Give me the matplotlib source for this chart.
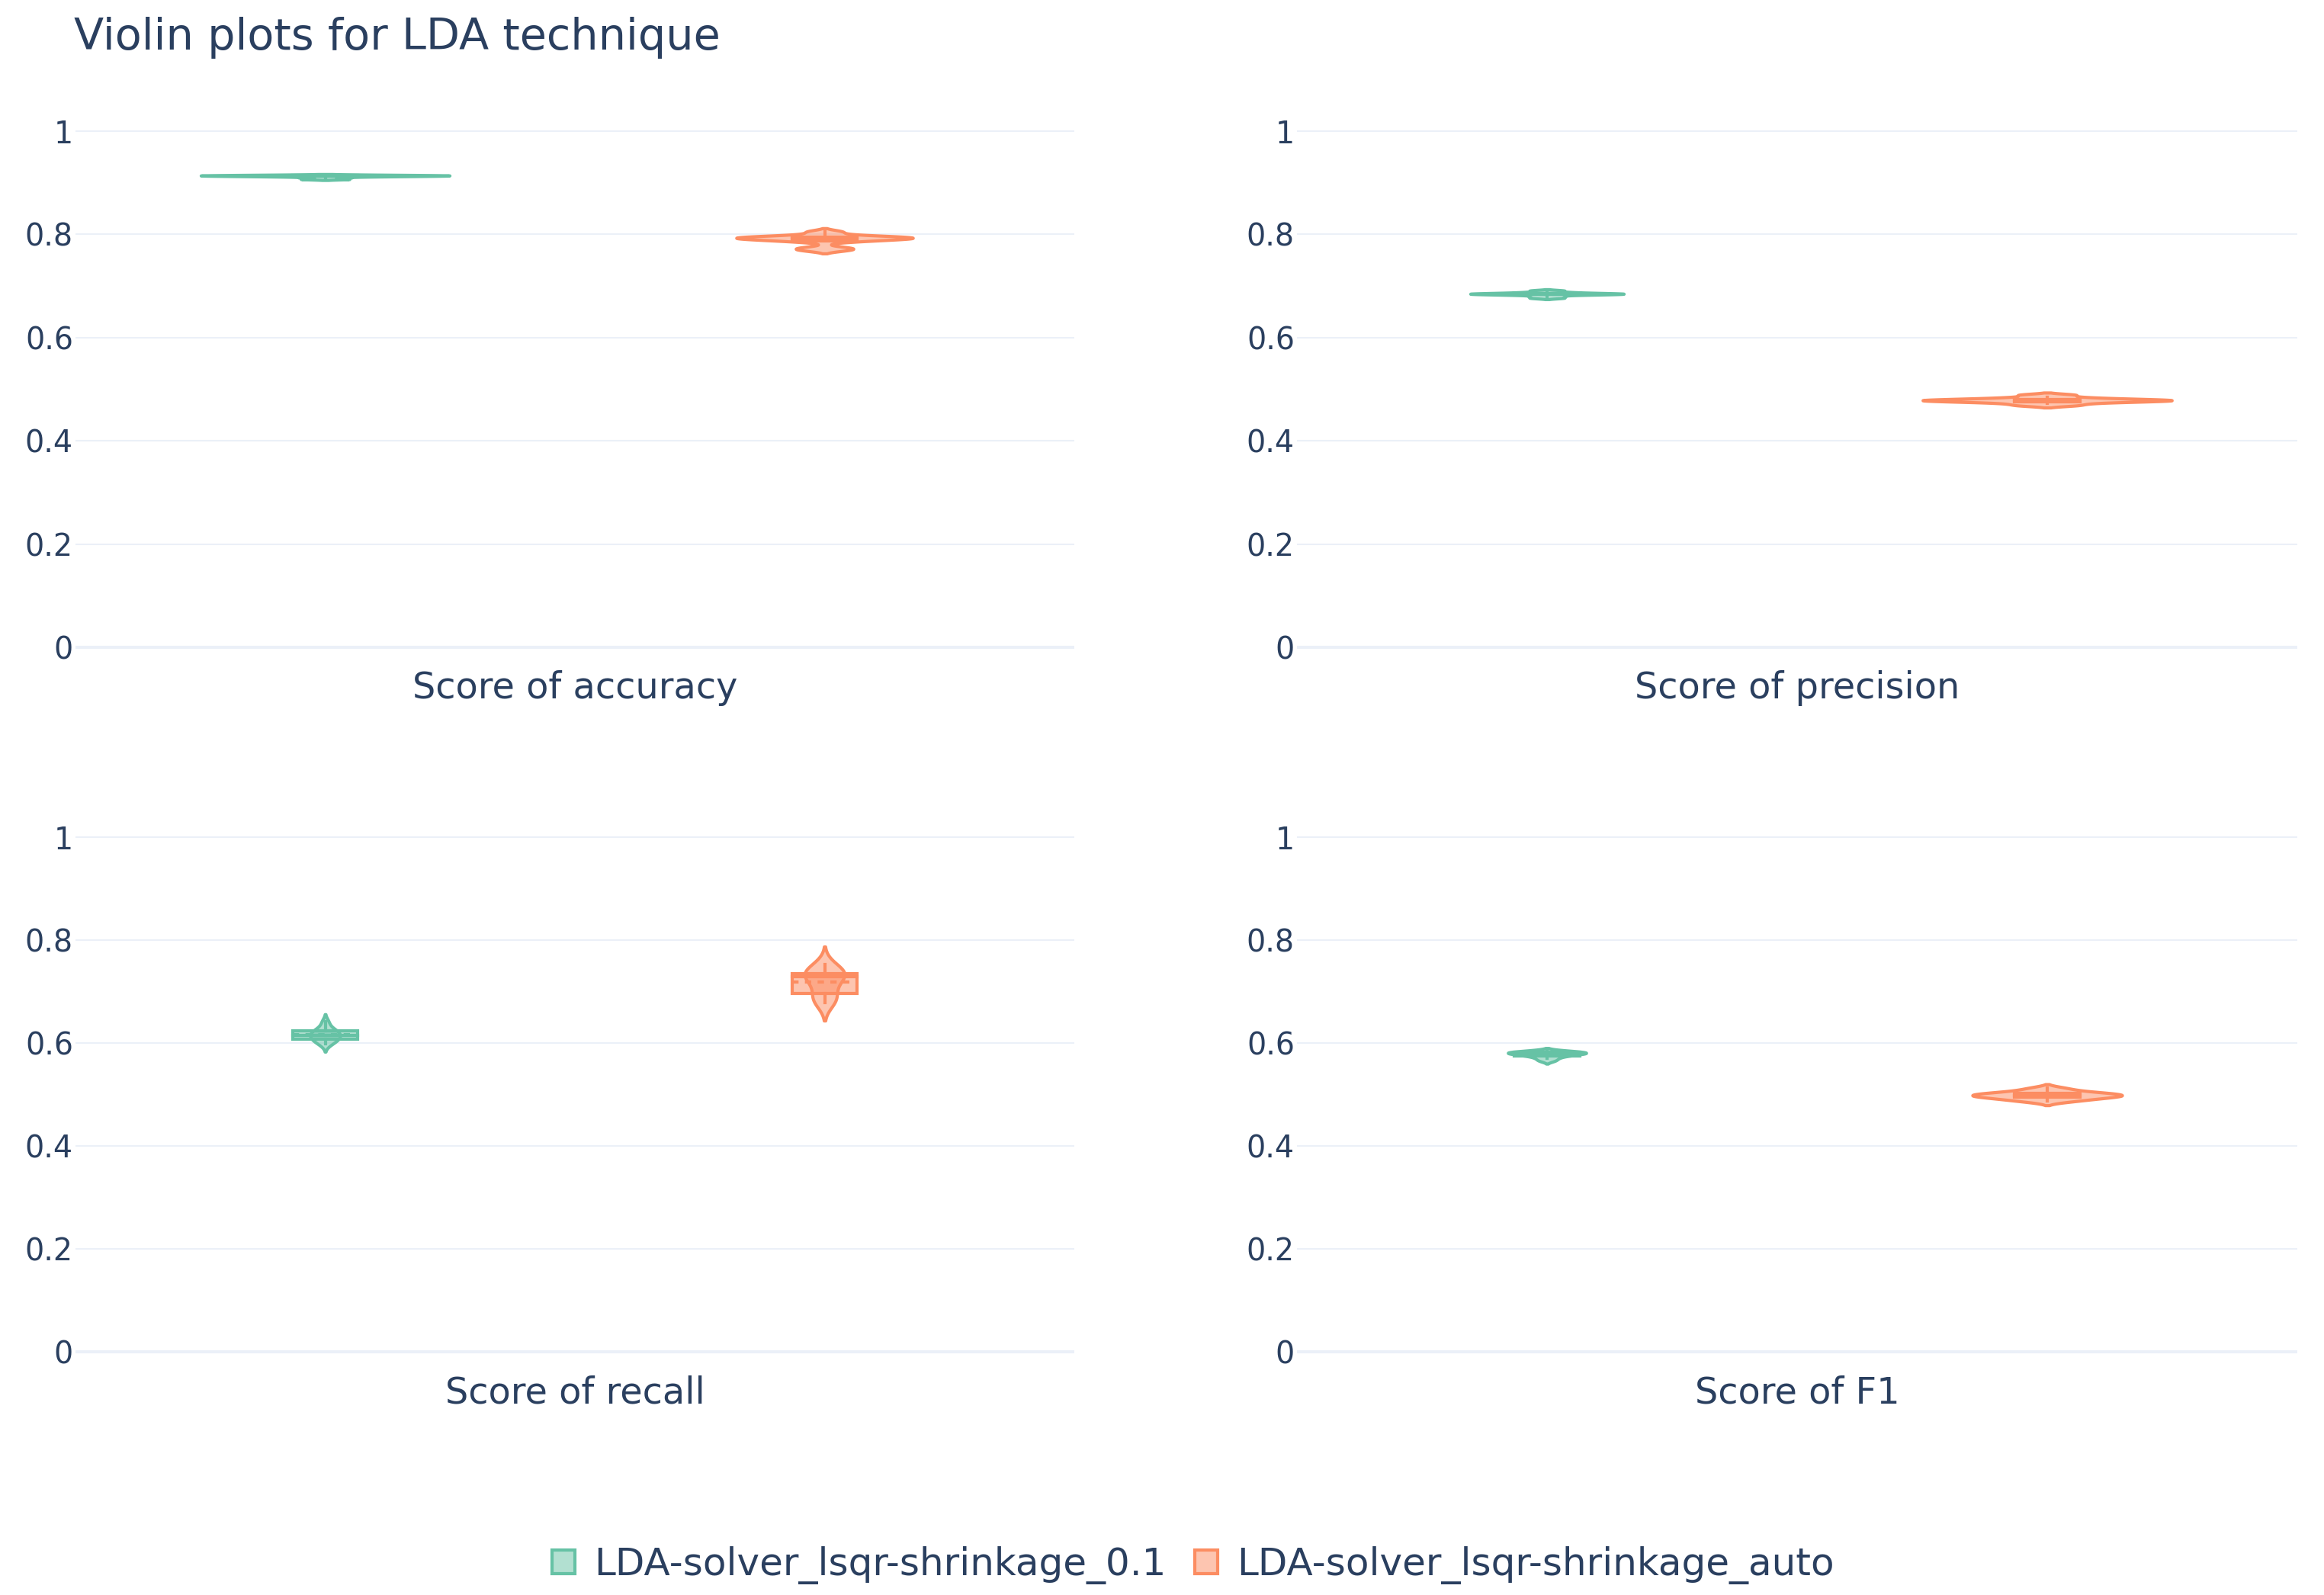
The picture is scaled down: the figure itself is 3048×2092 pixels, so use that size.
import numpy as np
import matplotlib.pyplot as plt
from matplotlib.colors import to_rgba
from matplotlib.patches import Rectangle, Patch

plt.rcParams['font.family'] = ['DejaVu Sans']

# chart text
title = 'Violin plots for LDA technique'
metrics = ['accuracy', 'precision', 'recall', 'F1']
models = ['LDA-solver_lsqr-shrinkage_0.1', 'LDA-solver_lsqr-shrinkage_auto']
colors = ['#66c2a5', '#fc8d62']
yticks = [0, 0.2, 0.4, 0.6, 0.8, 1]
ytick_labels = ['0', '0.2', '0.4', '0.6', '0.8', '1']

# fold scores (shrinkage 0.1)
acc_01 = [0.907, 0.910, 0.912, 0.913, 0.913, 0.914, 0.914, 0.914, 0.915, 0.915]
prec_01 = [0.677, 0.680, 0.683, 0.684, 0.6845, 0.685, 0.6855, 0.686, 0.688, 0.691]
rec_01 = [0.598, 0.604, 0.607, 0.611, 0.614, 0.617, 0.620, 0.624, 0.628, 0.641]
f1_01 = [0.566, 0.571, 0.575, 0.577, 0.579, 0.580, 0.581, 0.582, 0.583, 0.584]

# fold scores (shrinkage auto)
acc_auto = [0.770, 0.774, 0.787, 0.790, 0.792, 0.793, 0.794, 0.795, 0.797, 0.805]
prec_auto = [0.469, 0.473, 0.476, 0.477, 0.478, 0.479, 0.480, 0.481, 0.484, 0.489]
rec_auto = [0.678, 0.685, 0.692, 0.708, 0.728, 0.731, 0.733, 0.736, 0.739, 0.753]
f1_auto = [0.487, 0.491, 0.494, 0.496, 0.498, 0.499, 0.501, 0.503, 0.506, 0.512]

scores = {
    models[0]: dict(zip(metrics, [acc_01, prec_01, rec_01, f1_01])),
    models[1]: dict(zip(metrics, [acc_auto, prec_auto, rec_auto, f1_auto])),
}

text_col = '#2a3f5f'
grid_col = '#EBF0F8'
lw = 3.0


def kde(vals):
    # gaussian kde, silverman bandwidth, soft span (+-2 bandwidths)
    vals = np.asarray(vals)
    n = len(vals)
    q1, q3 = np.percentile(vals, [25, 75])
    bw = 1.059 * min(vals.std(ddof=1), (q3 - q1) / 1.349) * n ** -0.2
    y = np.linspace(vals.min() - 2 * bw, vals.max() + 2 * bw, 300)
    d = np.exp(-0.5 * ((y[:, None] - vals[None, :]) / bw) ** 2).sum(axis=1)
    return y, d / (n * bw * np.sqrt(2 * np.pi))


curves = {m: {k: kde(scores[m][k]) for k in metrics} for m in models}
# violins of one trace share a scale group across the subplots
dmax = {m: max(curves[m][k][1].max() for k in metrics) for m in models}

W, H = 3048, 2092
fig = plt.figure(figsize=(W / 100, H / 100), dpi=100)

ylo, yhi = -0.05, 1.1
cols_px = [(99, 1310), (1701, 1312)]
rows_px = [(849, 677), (1773, 675)]
positions = [0.25, 0.75]
half_max = 0.1245
box_w = 0.065

for k, met in enumerate(metrics):
    r, c = divmod(k, 2)
    x0, w = cols_px[c]
    zero, unit = rows_px[r]
    bottom = zero - ylo * unit
    top = zero - yhi * unit
    ax = fig.add_axes([x0 / W, 1 - bottom / H, w / W, (bottom - top) / H])
    ax.set_xlim(0, 1)
    ax.set_ylim(ylo, yhi)
    for sp in ax.spines.values():
        sp.set_visible(False)
    ax.set_yticks(yticks, ytick_labels, fontsize=28.5, color=text_col)
    ax.set_xticks([0.5], ['Score of ' + met], fontsize=34.5, color=text_col, va='baseline')
    ax.tick_params(axis='y', length=0, pad=2.2)
    ax.tick_params(axis='x', length=0, pad=24)
    for yv in yticks:
        ax.axhline(yv, color=grid_col, lw=2.9 if yv == 0 else 1.5, zorder=0)

    for i, m in enumerate(models):
        col = colors[i]
        pos = positions[i]
        vals = np.asarray(scores[m][met])
        y, d = curves[m][met]
        half = half_max * d / dmax[m]
        ax.fill_betweenx(y, pos - half, pos + half, facecolor=to_rgba(col, 0.5),
                         edgecolor=col, lw=lw, zorder=2)
        q1, med, q3 = np.percentile(vals, [25, 50, 75])
        iqr = q3 - q1
        lo = vals[vals >= q1 - 1.5 * iqr].min()
        hi = vals[vals <= q3 + 1.5 * iqr].max()
        ax.plot([pos, pos], [q3, hi], color=col, lw=lw, zorder=3)
        ax.plot([pos, pos], [lo, q1], color=col, lw=lw, zorder=3)
        ax.add_patch(Rectangle((pos - box_w / 2, q1), box_w, q3 - q1,
                               facecolor=to_rgba(col, 0.5), edgecolor=col, lw=lw, zorder=3))
        ax.plot([pos - box_w / 2, pos + box_w / 2], [med, med], color=col, lw=lw, zorder=4)
        ax.plot([pos - box_w / 2, pos + box_w / 2], [vals.mean()] * 2, color=col, lw=lw,
                ls=(0, (2, 2)), zorder=4)

fig.text(97 / W, 1 - 65 / H, title, fontsize=41.2, color=text_col, va='baseline')

handles = [Patch(facecolor=to_rgba(c, 0.5), edgecolor=c, lw=lw, label=m)
           for m, c in zip(models, colors)]
fig.legend(handles=handles, loc='center', bbox_to_anchor=(1565 / W, 1 - 2053 / H),
           ncol=2, frameon=False, fontsize=36, labelcolor=text_col,
           handlelength=0.6, handleheight=0.6, handletextpad=0.5,
           columnspacing=0.76, borderaxespad=0, borderpad=0)

fig.savefig('out.png', dpi=100)
